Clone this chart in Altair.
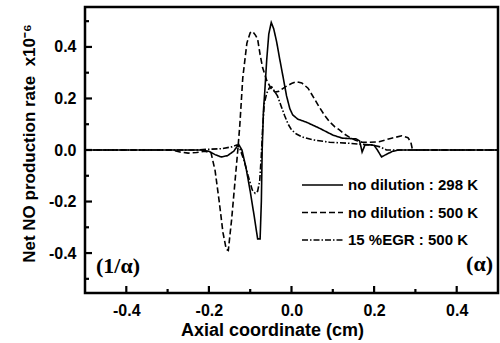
import altair as alt
import pandas as pd

# Net NO production rate profiles (x10^-6) along the axial coordinate (cm)
series_names = ["no dilution : 298 K", "no dilution : 500 K", "15 %EGR : 500 K"]

x_298 = [-0.5, -0.22, -0.2, -0.185, -0.17, -0.155, -0.14, -0.128, -0.12, -0.11,
         -0.1, -0.09, -0.082, -0.076, -0.073, -0.071, -0.068, -0.065, -0.06, -0.055,
         -0.049, -0.043, -0.036, -0.029, -0.02, -0.012, -0.004, 0.003, 0.015, 0.036,
         0.067, 0.1, 0.123, 0.157, 0.165, 0.171, 0.178, 0.19, 0.2, 0.208,
         0.218, 0.232, 0.245, 0.26, 0.5]
y_298 = [0.0, 0.0, -0.005, -0.018, -0.027, -0.022, -0.005, 0.022, 0.0, -0.07,
         -0.16, -0.26, -0.345, -0.345, -0.2, 0.0, 0.15, 0.22, 0.35, 0.45,
         0.495, 0.47, 0.42, 0.357, 0.28, 0.21, 0.16, 0.136, 0.12, 0.108,
         0.085, 0.058, 0.046, 0.043, 0.035, -0.008, 0.02, 0.02, 0.018, 0.0,
         -0.027, -0.015, -0.005, 0.0, 0.0]

x_500 = [-0.5, -0.29, -0.27, -0.25, -0.23, -0.21, -0.195, -0.185, -0.175, -0.166,
         -0.158, -0.153, -0.145, -0.14, -0.135, -0.13, -0.125, -0.118, -0.108, -0.1,
         -0.094, -0.087, -0.082, -0.076, -0.07, -0.06, -0.05, -0.04, -0.03, -0.015,
         0.0, 0.012, 0.025, 0.04, 0.055, 0.067, 0.08, 0.092, 0.105, 0.116,
         0.128, 0.14, 0.155, 0.171, 0.19, 0.212, 0.24, 0.267, 0.282, 0.289,
         0.293, 0.5]
y_500 = [0.0, 0.0, -0.008, -0.012, -0.01, -0.005, -0.01, -0.08, -0.2, -0.32,
         -0.385, -0.39, -0.27, -0.18, -0.09, 0.0, 0.1, 0.28, 0.415, 0.455,
         0.46, 0.445, 0.43, 0.37, 0.32, 0.27, 0.24, 0.225, 0.228, 0.245,
         0.258, 0.265, 0.26, 0.24, 0.2, 0.167, 0.135, 0.11, 0.09, 0.078,
         0.062, 0.05, 0.038, 0.03, 0.03, 0.032, 0.045, 0.055, 0.048, 0.03,
         0.0, 0.0]

x_egr = [-0.5, -0.23, -0.2, -0.17, -0.145, -0.132, -0.125, -0.115, -0.105, -0.095,
         -0.088, -0.082, -0.077, -0.073, -0.07, -0.066, -0.06, -0.054, -0.048, -0.042,
         -0.034, -0.025, -0.017, -0.008, 0.0, 0.012, 0.027, 0.05, 0.092, 0.14,
         0.17, 0.195, 0.215, 0.23, 0.5]
y_egr = [0.0, 0.0, 0.003, 0.005, 0.012, 0.02, 0.005, -0.04, -0.1, -0.155,
         -0.168, -0.16, -0.12, -0.02, 0.08, 0.18, 0.22, 0.24, 0.245, 0.23,
         0.21, 0.17, 0.135, 0.1, 0.078, 0.062, 0.05, 0.04, 0.03, 0.026,
         0.022, 0.02, 0.012, 0.0, 0.0]

x_tick_labels = [-0.4, -0.2, 0.0, 0.2, 0.4]
x_minor_ticks = [-0.3, -0.1, 0.1, 0.3]
y_tick_labels = [-0.4, -0.2, 0.0, 0.2, 0.4]
y_minor_ticks = [-0.5, -0.3, -0.1, 0.1, 0.3, 0.5]
panel_tags = ["(1/α)", "(α)"]

dash_patterns = [[1, 0], [6, 3], [6, 2, 1.5, 2]]

frames = []
for name, xs, ys in zip(series_names, [x_298, x_500, x_egr], [y_298, y_500, y_egr]):
    frames.append(pd.DataFrame({"series": name, "x": xs, "y": ys, "i": range(len(xs))}))
df = pd.concat(frames, ignore_index=True)

W, H = 413, 286
FONT = "Liberation Sans"
x_scale = alt.Scale(domain=[-0.5, 0.5], nice=False, zero=False)
y_scale = alt.Scale(domain=[-0.555, 0.555], nice=False, zero=False)
dash_scale = alt.Scale(domain=series_names, range=dash_patterns)
hyphen = "replace(format(datum.value, '.1f'), '\u2212', '-')"

x_title = "Axial coordinate (cm)"
y_title = "Net NO production rate \u00a0x10\u207b\u2076"
x_axis = alt.Axis(values=x_tick_labels, labelExpr=hyphen)
y_axis = alt.Axis(values=y_tick_labels, labelExpr=hyphen)

lines = alt.Chart(df).mark_line(color="black", strokeWidth=1.6, clip=True).encode(
    x=alt.X("x:Q", scale=x_scale, title=x_title, axis=x_axis),
    y=alt.Y("y:Q", scale=y_scale, title=y_title, axis=y_axis),
    strokeDash=alt.StrokeDash("series:N", scale=dash_scale, legend=None),
    detail="series:N",
    order="i:Q",
)

# inward tick marks on the left and bottom frame
def y_ticks(vals, length):
    return alt.Chart(pd.DataFrame({"y": vals})).mark_rule(color="black", strokeWidth=2.2).encode(
        y=alt.Y("y:Q", scale=y_scale, title=y_title, axis=y_axis),
        x=alt.value(0), x2=alt.value(length))

def x_ticks(vals, length):
    return alt.Chart(pd.DataFrame({"x": vals})).mark_rule(color="black", strokeWidth=2.2).encode(
        x=alt.X("x:Q", scale=x_scale, title=x_title, axis=x_axis),
        y=alt.value(H), y2=alt.value(H - length))

layers = [lines,
          y_ticks(y_tick_labels, 7), y_ticks(y_minor_ticks, 4),
          x_ticks(x_tick_labels, 7), x_ticks(x_minor_ticks, 4)]

# legend drawn inside the plot area
for k, (name, dash) in enumerate(zip(series_names, dash_patterns)):
    ly = 178 + 27.5 * k
    base = alt.Chart(pd.DataFrame({"label": [name]}))
    layers.append(base.mark_rule(color="black", strokeWidth=1.6, strokeDash=dash).encode(
        x=alt.value(217), x2=alt.value(258), y=alt.value(ly)))
    layers.append(base.mark_text(align="left", baseline="middle", font=FONT, fontSize=15,
                                 fontWeight="bold", color="black").encode(
        x=alt.value(263), y=alt.value(ly), text="label:N"))

tag_df = pd.DataFrame({"tag": panel_tags})
layers.append(alt.Chart(tag_df).transform_filter(alt.datum.tag == panel_tags[0]).mark_text(
    align="left", baseline="middle", font="Liberation Serif", fontWeight="bold",
    fontSize=22, color="black").encode(x=alt.value(11), y=alt.value(259), text="tag:N"))
layers.append(alt.Chart(tag_df).transform_filter(alt.datum.tag == panel_tags[1]).mark_text(
    align="right", baseline="middle", font="Liberation Serif", fontWeight="bold",
    fontSize=22, color="black").encode(x=alt.value(408), y=alt.value(257), text="tag:N"))

chart = alt.layer(*layers).properties(
    width=W, height=H,
    autosize=alt.AutoSizeParams(type="none"),
    padding={"left": 85, "top": 7, "right": 2, "bottom": 50},
    background="white",
).configure_view(
    stroke="black", strokeWidth=2.5
).configure_axis(
    ticks=False, tickSize=0, domain=False, grid=False,
    labelFont=FONT, labelColor="black", labelFontWeight="bold", labelPadding=9,
    titleFont=FONT, titleColor="black", titleFontWeight="bold",
).configure_axisX(
    labelFontSize=16, titleFontSize=18, titleX=187, titleY=42,
    titleBaseline="alphabetic",
).configure_axisY(
    labelFontSize=16, titleFontSize=17, titleAngle=270, titleX=-56, titleY=136,
    titleAlign="center", titleBaseline="middle",
)

chart.save("out.html", embed_options={"renderer": "svg", "actions": False})
